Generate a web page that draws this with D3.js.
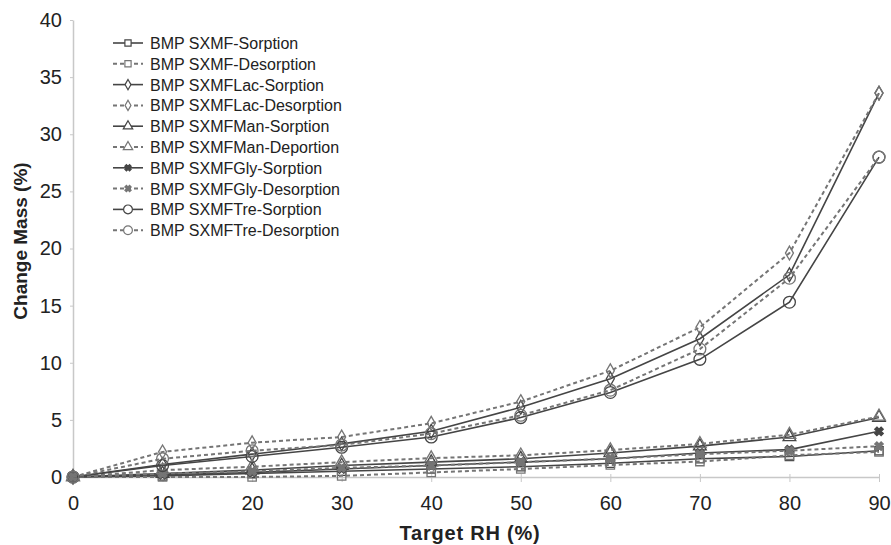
<!DOCTYPE html>
<html>
<head>
<meta charset="utf-8">
<script src="https://cdn.jsdelivr.net/npm/d3@7"></script>
<style>
  body { margin: 0; background: #fff; }
  text { font-family: "Liberation Sans", Arial, sans-serif; }
</style>
</head>
<body>
<div id="chart"></div>
<script>
// Chart data
var targetRH = [0, 10, 20, 30, 40, 50, 60, 70, 80, 90];

var sxmfSorption    = [0, 0.1, 0.3, 0.5, 0.7, 0.9, 1.2, 1.6, 1.8, 2.3];
var sxmfDesorption  = [0, 0.0, 0.0, 0.1, 0.4, 0.7, 1.05, 1.35, 1.9, 2.2];
var lacSorption     = [0, 1.1, 2.0, 2.9, 4.0, 6.1, 8.6, 12.1, 17.7, 33.6];
var lacDesorption   = [0, 2.2, 3.0, 3.5, 4.7, 6.6, 9.3, 13.1, 19.6, 33.6];
var manSorption     = [0, 0.3, 0.6, 1.0, 1.3, 1.6, 2.1, 2.7, 3.5, 5.2];
var manDesorption   = [0, 0.6, 0.9, 1.3, 1.65, 1.9, 2.35, 2.9, 3.7, 5.3];
var glySorption     = [0, 0.2, 0.4, 0.7, 1.0, 1.3, 1.6, 2.1, 2.4, 4.0];
var glyDesorption   = [0, 0.3, 0.5, 0.8, 1.0, 1.3, 1.6, 2.0, 2.3, 2.7];
var treSorption     = [0, 1.0, 1.8, 2.6, 3.5, 5.2, 7.4, 10.3, 15.3, 28.0];
var treDesorption   = [0, 1.6, 2.3, 2.8, 3.8, 5.4, 7.6, 11.2, 17.4, 28.0];

var seriesNames = [
  "BMP SXMF-Sorption", "BMP SXMF-Desorption",
  "BMP SXMFLac-Sorption", "BMP SXMFLac-Desorption",
  "BMP SXMFMan-Sorption", "BMP SXMFMan-Deportion",
  "BMP SXMFGly-Sorption", "BMP SXMFGly-Desorption",
  "BMP SXMFTre-Sorption", "BMP SXMFTre-Desorption"
];
var seriesValues = [
  sxmfSorption, sxmfDesorption, lacSorption, lacDesorption,
  manSorption, manDesorption, glySorption, glyDesorption,
  treSorption, treDesorption
];

var yTicks = [0, 5, 10, 15, 20, 25, 30, 35, 40];

// SVG size and margins
var svgWidth = 891;
var svgHeight = 545;
var margin = { top: 20, right: 12, bottom: 68, left: 73 };
var width = svgWidth - margin.left - margin.right;
var height = svgHeight - margin.top - margin.bottom;

var svg = d3.select("#chart")
  .append("svg")
  .attr("width", svgWidth)
  .attr("height", svgHeight);

var chartGroup = svg.append("g")
  .attr("transform", `translate(${margin.left}, ${margin.top})`);

var xScale = d3.scaleLinear().domain([0, 90]).range([0, width]);
var yScale = d3.scaleLinear().domain([0, 40]).range([height, 0]);

// Axes
var xAxis = chartGroup.append("g")
  .attr("transform", `translate(0, ${height})`)
  .call(d3.axisBottom(xScale).tickValues(targetRH).tickSizeInner(5).tickSizeOuter(0).tickPadding(14));
var yAxis = chartGroup.append("g")
  .call(d3.axisLeft(yScale).tickValues(yTicks).tickSizeInner(3).tickSizeOuter(0).tickPadding(8));

[xAxis, yAxis].forEach(function(ax) {
  ax.select(".domain").attr("stroke", "#c8c8c8").attr("stroke-width", 1.5);
  ax.selectAll(".tick line").attr("stroke", "#c8c8c8");
  ax.selectAll(".tick text")
    .attr("fill", "#222")
    .style("font-size", "20px")
    .style("font-family", "'Liberation Sans', Arial, sans-serif");
});
xAxis.selectAll(".tick line").attr("y1", -3);

// Markers
var symbolTypes = [
  d3.symbolSquare, d3.symbolSquare,
  d3.symbolDiamond, d3.symbolDiamond,
  d3.symbolTriangle, d3.symbolTriangle,
  d3.symbolCross, d3.symbolCross,
  d3.symbolCircle, d3.symbolCircle
];
var symbolSizes = [70, 70, 55, 55, 70, 70, 45, 45, 110, 110];

function markerRotation(i) {
  return (i === 6 || i === 7) ? 45 : 0;
}

var line = d3.line()
  .x(function(d, i) { return xScale(targetRH[i]); })
  .y(function(d) { return yScale(d); });

seriesValues.forEach(function(values, i) {
  var isDesorption = i % 2 === 1;
  var color = isDesorption ? "#757575" : "#454545";

  chartGroup.append("path")
    .datum(values)
    .attr("fill", "none")
    .attr("stroke", color)
    .attr("stroke-width", isDesorption ? 2 : 1.6)
    .attr("stroke-dasharray", isDesorption ? "4,3" : null)
    .attr("d", line);

  chartGroup.selectAll(".marker-" + i)
    .data(values)
    .enter()
    .append("path")
    .attr("class", "marker-" + i)
    .attr("transform", function(d, j) {
      return `translate(${xScale(targetRH[j])}, ${yScale(d)}) rotate(${markerRotation(i)})`;
    })
    .attr("d", d3.symbol().type(symbolTypes[i]).size(symbolSizes[i]))
    .attr("fill", (i === 6 || i === 7) ? color : "none")
    .attr("stroke", color)
    .attr("stroke-width", 1.3);
});

// Legend
var legend = svg.append("g").attr("transform", "translate(113, 43)");
seriesNames.forEach(function(name, i) {
  var isDesorption = i % 2 === 1;
  var color = isDesorption ? "#757575" : "#454545";
  var row = legend.append("g").attr("transform", `translate(0, ${i * 20.8})`);
  row.append("line")
    .attr("x1", 0).attr("x2", 30)
    .attr("stroke", color)
    .attr("stroke-width", isDesorption ? 2 : 1.6)
    .attr("stroke-dasharray", isDesorption ? "4,3" : null);
  row.append("path")
    .attr("transform", `translate(15, 0) rotate(${markerRotation(i)})`)
    .attr("d", d3.symbol().type(symbolTypes[i]).size(symbolSizes[i] * 0.55))
    .attr("fill", (i === 6 || i === 7) ? color : "#fff")
    .attr("stroke", color)
    .attr("stroke-width", 1.2);
  row.append("text")
    .attr("x", 37)
    .attr("y", 6)
    .attr("fill", "#222")
    .style("font-size", "16px")
    .text(name);
});

// Axis titles
svg.append("text")
  .attr("x", 470)
  .attr("y", 540)
  .attr("text-anchor", "middle")
  .attr("fill", "#222")
  .style("font-size", "20px")
  .style("font-weight", "bold")
  .style("letter-spacing", "0.8px")
  .text("Target RH (%)");

svg.append("text")
  .attr("transform", "rotate(-90)")
  .attr("x", -241)
  .attr("y", 27)
  .attr("text-anchor", "middle")
  .attr("fill", "#222")
  .style("font-size", "19px")
  .style("font-weight", "bold")
  .text("Change Mass (%)");
</script>
</body>
</html>
